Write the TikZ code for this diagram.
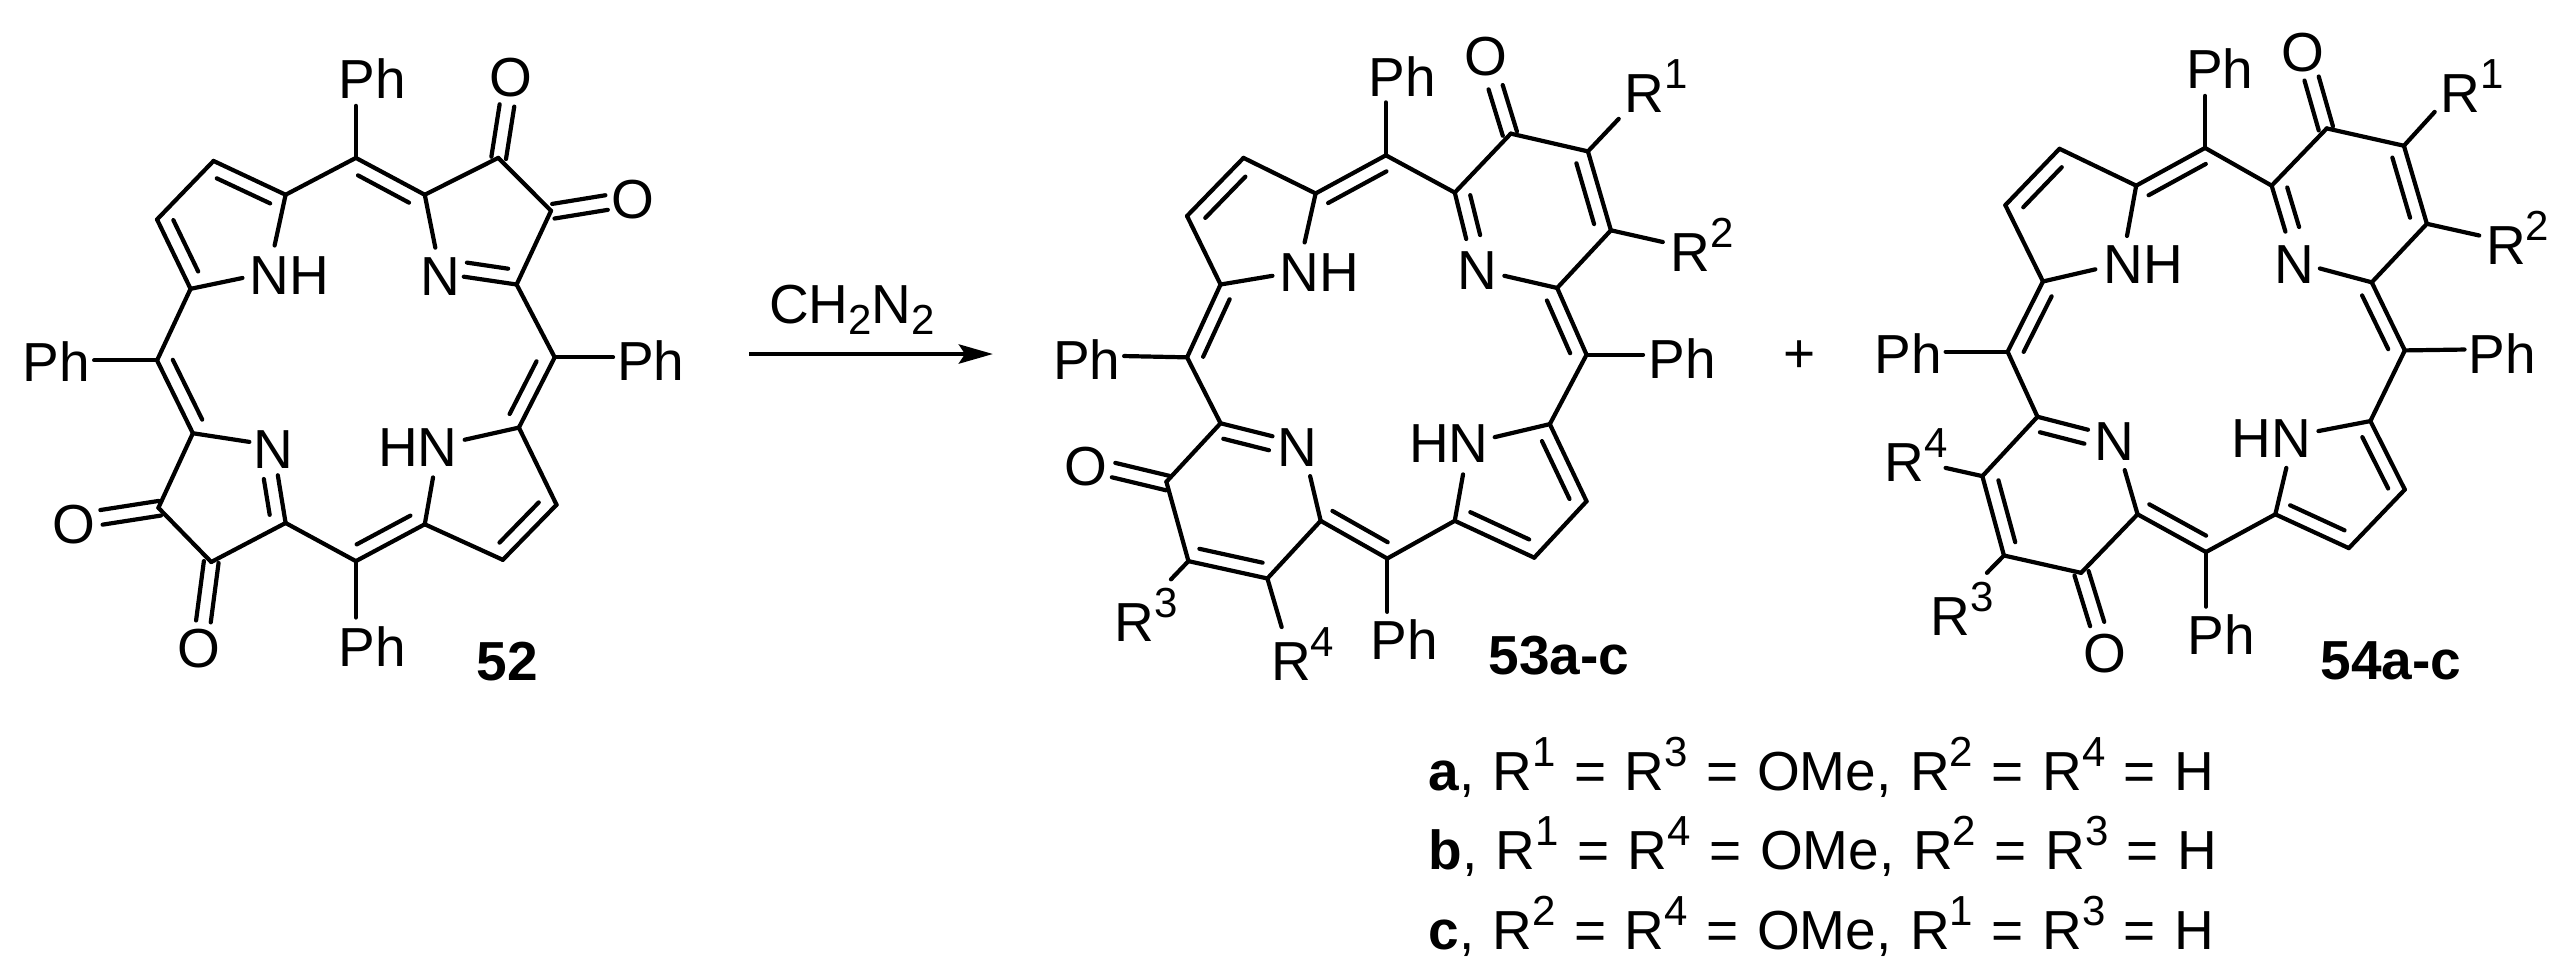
\documentclass[tikz,border=0pt]{standalone}
\usepackage{fontspec}
\setmainfont{Liberation Sans}
\usetikzlibrary{calc,arrows.meta}
\tikzset{
  bond/.style={line width=2.1pt,line join=round,line cap=round},
  lab/.style={inner sep=0pt,font=\fontsize{27.5}{30}\selectfont},
  bold/.style={inner sep=0pt,font=\fontsize{27.5}{30}\selectfont\bfseries},
  rl/.style={inner sep=0pt,anchor=base west,font=\fontsize{27.5}{30}\selectfont},
  mol/.style={x=0.2296pt,y=-0.2168pt}
}
\newcommand\sups[1]{\raisebox{12pt}{\fontsize{21}{22}\selectfont #1}}
\newcommand\subs[1]{\raisebox{-5.5pt}{\fontsize{21}{22}\selectfont #1}}
\newcommand\vx[3]{\coordinate (#1) at (#2,#3);}
\newcommand\bd[2]{\draw[bond] (#1)--(#2);}
\newcommand\dL[4]{\draw[bond] (#1)--(#2);\draw[bond] ($(#1)!#3!(#2)!7.2pt!90:(#2)$)--($(#1)!#4!(#2)!7.2pt!90:(#2)$);}
\newcommand\dC[2]{\draw[bond] ($(#1)!3.7pt!90:(#2)$)--($(#2)!3.7pt!-90:(#1)$);\draw[bond] ($(#1)!3.7pt!-90:(#2)$)--($(#2)!3.7pt!90:(#1)$);}
\newcommand\lb[4]{\node[lab] (#1) at (#2,#3) {#4};}
\newcommand\Rl[4]{\node[rl] (#1) at ({#2-41},{#3+44}) {R\sups{#4}};}
\begin{document}
\begin{tikzpicture}[x=0.5pt,y=-0.5pt]
\useasboundingbox (0,0) rectangle (2566,971);
% ---------- 52
\begin{scope}[shift={(0,20)},mol,name prefix=A-]
\vx{m1}{775}{318}\vx{a1}{622}{403}\vx{a2}{465}{325}\vx{a3}{342}{460}\vx{a4}{415}{620}
\vx{m2}{342}{785}\vx{b1}{420}{953}\vx{b2}{345}{1125}\vx{b3}{460}{1250}\vx{b4}{622}{1160}
\vx{m3}{775}{1248}\vx{c1}{925}{1163}\vx{c2}{1095}{1245}\vx{c3}{1212}{1118}\vx{c4}{1130}{940}
\vx{m4}{1208}{778}\vx{d4}{1125}{610}\vx{d3}{1200}{440}\vx{d2}{1085}{318}\vx{d1}{925}{403}
\vx{e1}{775}{198}\vx{e2}{205}{785}\vx{e3}{775}{1378}\vx{e4}{1335}{778}
\vx{n1}{598}{520}\vx{n2}{528}{595}\vx{n3}{543}{973}\vx{n4}{605}{1050}
\vx{n5}{943}{1055}\vx{n6}{1012}{968}\vx{n7}{948}{525}\vx{n8}{1010}{592}
\vx{o1}{1104}{197}\vx{o2}{1321}{421}\vx{o3}{221}{1147}\vx{o4}{443}{1387}
\vx{k1}{1086}{318}\vx{k2}{1205}{441}\vx{k3}{348}{1126}\vx{k4}{460}{1250}
\lb{ph1}{810}{135}{Ph}\lb{ph2}{122}{787}{Ph}\lb{ph3}{810}{1445}{Ph}\lb{ph4}{1417}{785}{Ph}
\lb{nh1}{630}{590}{NH}\lb{nb}{595}{990}{N}\lb{hn}{910}{985}{HN}\lb{nd}{958}{592}{N}
\lb{ox1}{1112}{132}{O}\lb{ox2}{1378}{413}{O}\lb{ox3}{160}{1163}{O}\lb{ox4}{433}{1450}{O}
\node[bold] (lab52) at (1105,1480) {52};
\bd{m1}{e1}\bd{m2}{e2}\bd{m3}{e3}\bd{m4}{e4}
\bd{a1}{m1}\bd{a2}{a3}\bd{a4}{m2}\bd{a1}{n1}\bd{a4}{n2}
\dL{a1}{a2}{.13}{.87}\dL{a3}{a4}{.10}{.84}\dL{m2}{b1}{.08}{.9}
\bd{b1}{n3}\dL{b4}{n4}{.22}{.97}\bd{b1}{b2}\bd{b2}{b3}\bd{b3}{b4}\bd{b4}{m3}
\dC{k3}{o3}\dC{k4}{o4}
\dL{m3}{c1}{.11}{.89}\bd{c1}{n5}\bd{c1}{c2}\dL{c2}{c3}{.13}{.86}\bd{c3}{c4}\bd{c4}{n6}
\dL{c4}{m4}{.10}{.85}\bd{m4}{d4}\dL{n8}{d4}{.02}{.8}\bd{d4}{d3}\bd{d3}{d2}\bd{d2}{d1}
\bd{d1}{n7}\dL{d1}{m1}{.13}{.87}\dC{k1}{o1}\dC{k2}{o2}
\end{scope}
% ---------- 53
\begin{scope}[shift={(1030,20)},mol,name prefix=B-]
\vx{m1}{775}{312}\vx{a1}{622}{400}\vx{a2}{465}{318}\vx{a3}{342}{452}\vx{a4}{415}{610}
\vx{m2}{342}{778}\vx{b1}{415}{930}\vx{b2}{297}{1065}\vx{b3}{345}{1248}\vx{b4}{517}{1288}\vx{b5}{633}{1155}
\vx{m3}{778}{1242}\vx{c1}{925}{1155}\vx{c2}{1098}{1240}\vx{c3}{1212}{1110}\vx{c4}{1132}{932}
\vx{m4}{1212}{772}\vx{d5}{1148}{618}\vx{d4}{1265}{485}\vx{d3}{1215}{303}\vx{d2}{1047}{262}\vx{d1}{925}{398}
\vx{e1}{775}{190}\vx{e2}{205}{775}\vx{e3}{778}{1365}\vx{e4}{1335}{772}
\vx{n1}{598}{513}\vx{n2}{528}{590}\vx{n3}{528}{960}\vx{n4}{610}{1052}
\vx{n5}{943}{1048}\vx{n6}{1012}{962}\vx{n7}{950}{505}\vx{n8}{1033}{590}
\vx{r1}{1282}{228}\vx{r2}{1378}{512}\vx{r3}{307}{1290}\vx{r4}{548}{1400}
\vx{k1}{1045}{262}\vx{o1}{1014}{155}\vx{k2}{300}{1068}\vx{o2}{182}{1038}
\lb{ph1}{810}{130}{Ph}\lb{ph2}{124}{782}{Ph}\lb{ph3}{815}{1430}{Ph}\lb{ph4}{1420}{780}{Ph}
\lb{nh1}{630}{583}{NH}\lb{nb}{583}{985}{N}\lb{hn}{912}{978}{HN}\lb{nd}{975}{578}{N}
\lb{ox1}{993}{85}{O}\lb{ox2}{122}{1030}{O}
\Rl{rr1}{1335}{170}{1}\Rl{rr2}{1435}{535}{2}\Rl{rr3}{225}{1390}{3}\Rl{rr4}{565}{1480}{4}
\node[bold] (lab53) at (1152,1465) {53a-c};
\bd{m1}{e1}\bd{m2}{e2}\bd{m3}{e3}\bd{m4}{e4}
\bd{a1}{a2}\dL{a2}{a3}{.15}{.86}\bd{a3}{a4}\dL{m1}{a1}{.09}{.92}\dL{a4}{m2}{.12}{.91}
\bd{a1}{n1}\bd{a4}{n2}\bd{m2}{b1}\dL{n3}{b1}{.0}{.88}\bd{b1}{b2}\bd{b2}{b3}\dL{b3}{b4}{.10}{.90}
\bd{b3}{r3}\bd{b4}{r4}\bd{b4}{b5}\bd{b5}{n4}\dL{b5}{m3}{.07}{.90}\bd{m3}{c1}\bd{c1}{n5}
\dL{c1}{c2}{.12}{.86}\bd{c2}{c3}\dL{c3}{c4}{.11}{.86}\bd{c4}{n6}\bd{c4}{m4}\dL{m4}{d5}{.11}{.90}
\bd{d5}{n8}\bd{d5}{d4}\bd{d4}{r2}\dL{d4}{d3}{.13}{.90}\bd{d3}{r1}\bd{d3}{d2}\bd{d2}{d1}
\dL{d1}{n7}{.13}{.99}\bd{m1}{d1}\dC{k1}{o1}\dC{k2}{o2}
\end{scope}
% ---------- 54
\begin{scope}[shift={(1840,20)},mol,name prefix=C-]
\vx{m1}{795}{295}\vx{a1}{645}{382}\vx{a2}{478}{297}\vx{a3}{360}{427}\vx{a4}{442}{603}
\vx{m2}{365}{765}\vx{b1}{430}{915}\vx{b2}{310}{1052}\vx{b3}{357}{1235}\vx{b4}{525}{1275}\vx{b5}{648}{1140}
\vx{m3}{797}{1227}\vx{c1}{948}{1140}\vx{c2}{1108}{1218}\vx{c3}{1230}{1083}\vx{c4}{1155}{925}
\vx{m4}{1230}{762}\vx{d5}{1158}{605}\vx{d4}{1278}{470}\vx{d3}{1228}{290}\vx{d2}{1060}{250}\vx{d1}{940}{382}
\vx{e1}{795}{175}\vx{e2}{230}{765}\vx{e3}{797}{1353}\vx{e4}{1360}{760}
\vx{n1}{625}{498}\vx{n2}{556}{575}\vx{n3}{540}{945}\vx{n4}{620}{1038}
\vx{n5}{972}{1033}\vx{n6}{1042}{948}\vx{n7}{970}{488}\vx{n8}{1045}{573}
\vx{r1}{1295}{212}\vx{r2}{1392}{497}\vx{r3}{320}{1275}\vx{r4}{230}{1033}
\vx{k1}{1058}{250}\vx{o1}{1027}{135}\vx{k2}{526}{1276}\vx{o2}{560}{1393}
\lb{ph1}{827}{112}{Ph}\lb{ph2}{148}{770}{Ph}\lb{ph3}{830}{1418}{Ph}\lb{ph4}{1442}{770}{Ph}
\lb{nh1}{660}{565}{NH}\lb{nb}{597}{972}{N}\lb{hn}{940}{965}{HN}\lb{nd}{990}{563}{N}
\lb{ox1}{1007}{75}{O}\lb{ox2}{577}{1462}{O}
\Rl{rr1}{1348}{170}{1}\Rl{rr2}{1447}{520}{2}\Rl{rr3}{237}{1375}{3}\Rl{rr4}{137}{1020}{4}
\node[bold] (lab54) at (1200,1478) {54a-c};
\bd{m1}{e1}\bd{m2}{e2}\bd{m3}{e3}\bd{m4}{e4}
\bd{a1}{a2}\dL{a2}{a3}{.15}{.86}\bd{a3}{a4}\dL{m1}{a1}{.09}{.92}\dL{a4}{m2}{.12}{.91}
\bd{a1}{n1}\bd{a4}{n2}\bd{m2}{b1}\dL{n3}{b1}{.0}{.88}\bd{b1}{b2}\bd{b2}{r4}\dL{b2}{b3}{.10}{.88}
\bd{b3}{r3}\bd{b3}{b4}\bd{b4}{b5}\bd{b5}{n4}\dL{b5}{m3}{.07}{.90}\bd{m3}{c1}\bd{c1}{n5}
\dL{c1}{c2}{.12}{.86}\bd{c2}{c3}\dL{c3}{c4}{.11}{.86}\bd{c4}{n6}\bd{c4}{m4}\dL{m4}{d5}{.11}{.90}
\bd{d5}{n8}\bd{d5}{d4}\bd{d4}{r2}\dL{d4}{d3}{.13}{.90}\bd{d3}{r1}\bd{d3}{d2}\bd{d2}{d1}
\dL{d1}{n7}{.13}{.99}\bd{m1}{d1}\dC{k1}{o1}\dC{k2}{o2}
\end{scope}
% ---------- arrow, plus, legend
\coordinate (arrS) at (749,354);
\coordinate (arrE) at (993,354);
\draw[line width=2.4pt,-{Stealth[length=17pt,width=9.5pt,inset=3pt]}] (arrS)--(arrE);
\node[lab,anchor=base] (reag) at (852,323) {CH\subs{2}N\subs{2}};
\node[lab] (plus) at (1800,357) {+};
\newcommand\lsp{\spaceskip=9.25pt\relax}
\node[rl] (leg1) at (1428,790) {\lsp\textbf{a}, R\sups{1} = R\sups{3} = OMe, R\sups{2} = R\sups{4} = H};
\node[rl] (leg2) at (1428,869) {\lsp\textbf{b}, R\sups{1} = R\sups{4} = OMe, R\sups{2} = R\sups{3} = H};
\node[rl] (leg3) at (1428,949) {\lsp\textbf{c}, R\sups{2} = R\sups{4} = OMe, R\sups{1} = R\sups{3} = H};
\end{tikzpicture}
\end{document}
